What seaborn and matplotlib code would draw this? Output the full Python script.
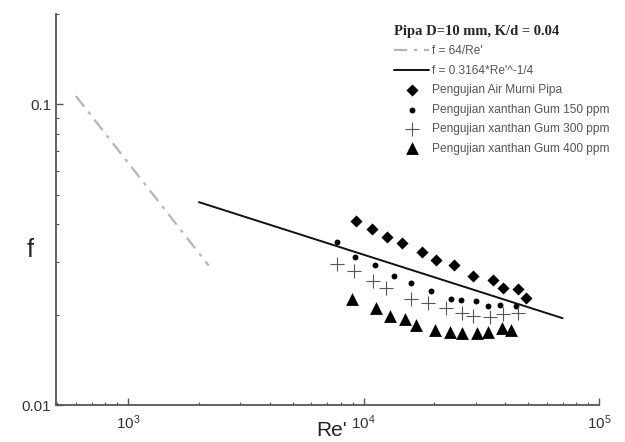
import numpy as np
import pandas as pd
import matplotlib
matplotlib.use("Agg")
import matplotlib.pyplot as plt
import seaborn as sns
from matplotlib.ticker import LogLocator, NullFormatter, FixedLocator, FixedFormatter

# ---- data ----
re_lam = [600, 2200]
re_blasius = [2000, 70000]

re_water = [9290, 10830, 12620, 14530, 17770, 20320, 24230, 29090, 35590, 38990, 45430, 48980]
f_water = [0.0409, 0.0385, 0.0362, 0.0345, 0.0322, 0.0304, 0.0292, 0.0268, 0.0260, 0.0245, 0.0243, 0.0227]

re_150 = [7690, 9230, 11220, 13480, 15870, 19410, 23530, 26030, 30130, 33880, 37980, 44430]
f_150 = [0.0349, 0.0311, 0.0293, 0.0269, 0.0254, 0.0240, 0.0225, 0.0223, 0.0222, 0.0214, 0.0215, 0.0213]

re_300 = [7690, 9110, 11010, 12460, 15870, 18850, 22400, 26120, 29260, 34450, 39230, 45430]
f_300 = [0.0294, 0.0279, 0.0258, 0.0245, 0.0225, 0.0219, 0.0210, 0.0202, 0.0198, 0.0197, 0.0201, 0.0202]

re_400 = [8960, 11270, 12960, 15010, 16660, 20060, 23300, 26280, 30250, 33880, 38620, 42300]
f_400 = [0.0226, 0.0211, 0.0198, 0.0194, 0.0185, 0.0178, 0.0175, 0.0173, 0.0174, 0.0175, 0.0180, 0.0178]

labels = ["f = 64/Re'", "f = 0.3164*Re'^-1/4",
          "Pengujian Air Murni Pipa", "Pengujian xanthan Gum 150 ppm",
          "Pengujian xanthan Gum 300 ppm", "Pengujian xanthan Gum 400 ppm"]
legend_title = "Pipa D=10 mm, K/d = 0.04"

# ---- figure ----
sns.set_theme(style="white")
plt.rcParams['font.family'] = ['Liberation Sans', 'DejaVu Sans']

fig = plt.figure(figsize=(6.25, 4.42), dpi=100)
ax = fig.add_axes([0.0896, 0.0837, 0.9584 - 0.0896, 0.9683 - 0.0837])

lam_df = pd.DataFrame({"Re": re_lam, "f": [64.0 / r for r in re_lam]})
bl_df = pd.DataFrame({"Re": re_blasius, "f": [0.3164 * r ** -0.25 for r in re_blasius]})

sns.lineplot(data=lam_df, x="Re", y="f", ax=ax, color="#b5b5b5", lw=1.6,
             linestyle=(0, (6, 3, 1.5, 3)), label=labels[0])
sns.lineplot(data=bl_df, x="Re", y="f", ax=ax, color="#111111", lw=1.4, label=labels[1])

sns.scatterplot(x=re_water, y=f_water, ax=ax, marker="D", s=38, color="black",
                edgecolor="black", linewidth=0, label=labels[2])
sns.scatterplot(x=re_150, y=f_150, ax=ax, marker="o", s=18, color="black",
                edgecolor="black", linewidth=0, label=labels[3])
sns.scatterplot(x=re_300, y=f_300, ax=ax, marker="+", s=95, color="#555555",
                linewidth=0.8, label=labels[4])
sns.scatterplot(x=re_400, y=f_400, ax=ax, marker="^", s=85, color="black",
                edgecolor="black", linewidth=0, label=labels[5])

ax.set_xscale("log")
ax.set_yscale("log")
ax.set_xlim(494, 1.0e5)
ax.set_ylim(0.01, 0.2)

for s in ["top", "right"]:
    ax.spines[s].set_visible(False)
for s in ["left", "bottom"]:
    ax.spines[s].set_color("#555555")
    ax.spines[s].set_linewidth(1.3)

ax.xaxis.set_major_locator(FixedLocator([1e3, 1e4, 1e5]))
ax.xaxis.set_major_formatter(FixedFormatter([r"$\mathregular{10^3}$", r"$\mathregular{10^4}$", r"$\mathregular{10^5}$"]))
ax.xaxis.set_minor_locator(LogLocator(base=10, subs=np.arange(2, 10)))
ax.xaxis.set_minor_formatter(NullFormatter())
ax.yaxis.set_major_locator(FixedLocator([0.01, 0.1]))
ax.yaxis.set_major_formatter(FixedFormatter(["0.01", "0.1"]))
ax.yaxis.set_minor_locator(LogLocator(base=10, subs=np.arange(2, 10)))
ax.yaxis.set_minor_formatter(NullFormatter())

ax.tick_params(axis="both", which="major", direction="in", length=5, width=1.0,
               color="#555555", labelsize=11, labelcolor="#333333", left=True, bottom=True)
ax.tick_params(axis="both", which="minor", direction="in", length=2.5, width=0.8,
               color="#555555", left=True, bottom=True)
ax.tick_params(axis="x", which="major", pad=6)

ax.set_xlabel("")
ax.set_ylabel("")
fig.text(347 / 625, 1 - 431 / 442, "Re'", fontsize=15, color="#222222",
         ha="right", va="center")
fig.text(30 / 625, 1 - 250 / 442, "f", fontsize=18, color="#222222",
         ha="center", va="center")

leg = ax.legend(loc="upper left", bbox_to_anchor=(0.61, 0.99), frameon=False,
                fontsize=8.6, handlelength=2.9, handletextpad=0.25, labelspacing=0.62,
                title=legend_title, alignment="left", borderaxespad=0.2)
leg.get_title().set_fontfamily("Liberation Serif")
leg.get_title().set_fontweight("bold")
leg.get_title().set_fontsize(10.5)
for t in leg.get_texts():
    t.set_color("#555555")

fig.savefig("out.png", dpi=100, facecolor="white")
